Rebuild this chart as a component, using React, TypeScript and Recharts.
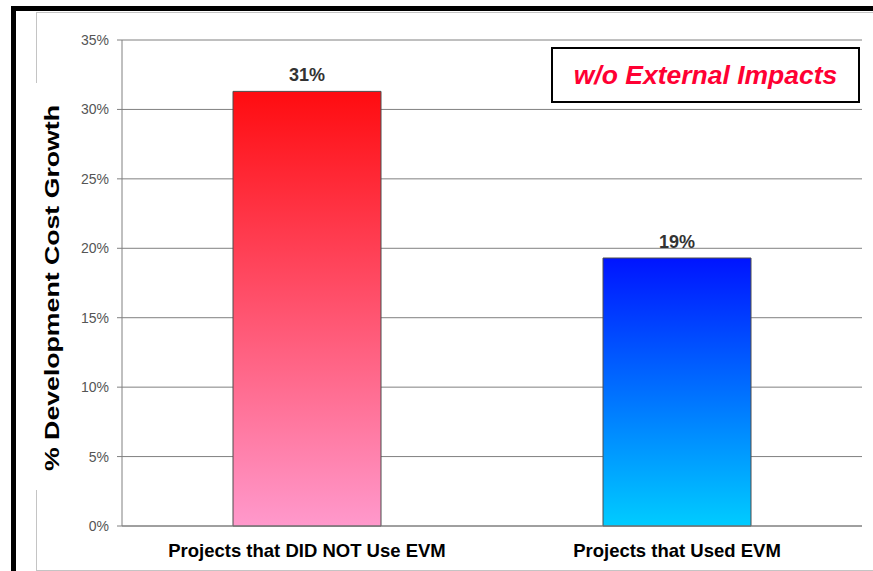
import React from 'react';
import { BarChart, Bar, XAxis, YAxis, CartesianGrid, Cell, LabelList, Label } from 'recharts';

const categories = ['Projects that DID NOT Use EVM', 'Projects that Used EVM'];
const costGrowth = [31.3, 19.3];
const barGradients = [
  ['#ff0c10', '#ff99cc'],
  ['#0014ff', '#00ccff'],
];
const yTicks = [0, 5, 10, 15, 20, 25, 30, 35];
const boundaryTicks = [0, 1, 2];
const badgeText = 'w/o External Impacts';
const yTitle = '% Development Cost Growth';

const FONT = '"Liberation Sans", Arial, Helvetica, sans-serif';

const chartData = categories.map((name, i) => ({ name, value: costGrowth[i], pos: i + 0.5 }));

// rotated axis title sits on a white patch that breaks the chart-area frame
const YTitle = (props: any) => {
  const { viewBox } = props;
  const cx = viewBox.x + 59;
  const cy = viewBox.y + viewBox.height / 2 + 5;
  return (
    <g>
      <rect x={viewBox.x + 30} y={83} width={44} height={407} fill="#fff" />
      <text
        x={cx}
        y={cy}
        transform={`rotate(-90 ${cx} ${cy})`}
        textAnchor="middle"
        fontFamily={FONT}
        fontWeight="bold"
        fontSize={21}
        fill="#000"
        textLength={366}
        lengthAdjust="spacingAndGlyphs"
      >
        {yTitle}
      </text>
    </g>
  );
};

const App = () => {
  return (
    <div
      style={{
        position: 'absolute',
        left: 0,
        top: 0,
        width: 873,
        height: 571,
        overflow: 'hidden',
        background: '#fff',
        fontFamily: FONT,
      }}
    >
      <svg width={0} height={0} style={{ position: 'absolute' }}>
        <defs>
          {barGradients.map(([top, bottom], i) => (
            <linearGradient key={i} id={`barFill${i}`} x1="0" y1="0" x2="0" y2="1">
              <stop offset="0%" stopColor={top} />
              <stop offset="100%" stopColor={bottom} />
            </linearGradient>
          ))}
        </defs>
      </svg>

      {/* slide frame and chart-area frame */}
      <div
        style={{
          position: 'absolute',
          left: 11,
          top: 6,
          width: 920,
          height: 620,
          border: '5px solid #000',
          boxSizing: 'border-box',
        }}
      />
      <div
        style={{
          position: 'absolute',
          left: 36,
          top: 12,
          width: 900,
          height: 559,
          border: '1px solid #c4c4c4',
          boxSizing: 'border-box',
        }}
      />

      <div style={{ position: 'absolute', left: 0, top: 0 }}>
        <BarChart
          width={873}
          height={571}
          data={chartData}
          margin={{ top: 40, right: 11, left: 0, bottom: 0 }}
          barCategoryGap="30%"
        >
          <CartesianGrid vertical={false} stroke="#808080" xAxisId="cat" yAxisId="left" />
          <XAxis
            xAxisId="ticks"
            dataKey="pos"
            type="number"
            domain={[0, 2]}
            ticks={boundaryTicks}
            height={0}
            axisLine={false}
            tick={false}
            tickSize={6}
            tickLine={{ stroke: '#808080' }}
          />
          <XAxis
            xAxisId="cat"
            dataKey="name"
            height={45}
            axisLine={{ stroke: '#808080' }}
            tickLine={false}
            tickSize={0}
            tickMargin={18}
            tick={{ fill: '#000', fontSize: 18.5, fontWeight: 'bold', fontFamily: FONT }}
          />
          <YAxis
            yAxisId="left"
            width={122}
            domain={[0, 35]}
            ticks={yTicks}
            tickFormatter={(v) => `${v}%`}
            tickSize={5}
            tickMargin={8}
            axisLine={{ stroke: '#808080' }}
            tickLine={{ stroke: '#808080' }}
            tick={{ fill: '#555', fontSize: 14, fontFamily: FONT }}
          >
            <Label content={<YTitle />} />
          </YAxis>
          <YAxis
            yAxisId="frame"
            orientation="right"
            width={0}
            domain={[0, 35]}
            tick={false}
            tickLine={false}
            axisLine={{ stroke: '#adadad' }}
          />
          <Bar
            dataKey="value"
            xAxisId="cat"
            yAxisId="left"
            stroke="#4d4d4d"
            strokeWidth={1}
            isAnimationActive={false}
          >
            {chartData.map((d, i) => (
              <Cell key={d.name} fill={`url(#barFill${i})`} />
            ))}
            <LabelList
              dataKey="value"
              position="top"
              offset={10}
              formatter={(v: any) => `${Math.round(Number(v))}%`}
              fill="#333"
              fontSize={18}
              fontWeight="bold"
              fontFamily={FONT}
            />
          </Bar>
        </BarChart>
      </div>

      <div
        style={{
          position: 'absolute',
          left: 551,
          top: 47,
          width: 309,
          height: 56,
          border: '2px solid #000',
          boxSizing: 'border-box',
          background: '#fff',
          display: 'flex',
          alignItems: 'center',
          justifyContent: 'center',
          color: '#ff0033',
          fontWeight: 'bold',
          fontStyle: 'italic',
          fontSize: 26.5,
        }}
      >
        {badgeText}
      </div>
    </div>
  );
};

export default App;
